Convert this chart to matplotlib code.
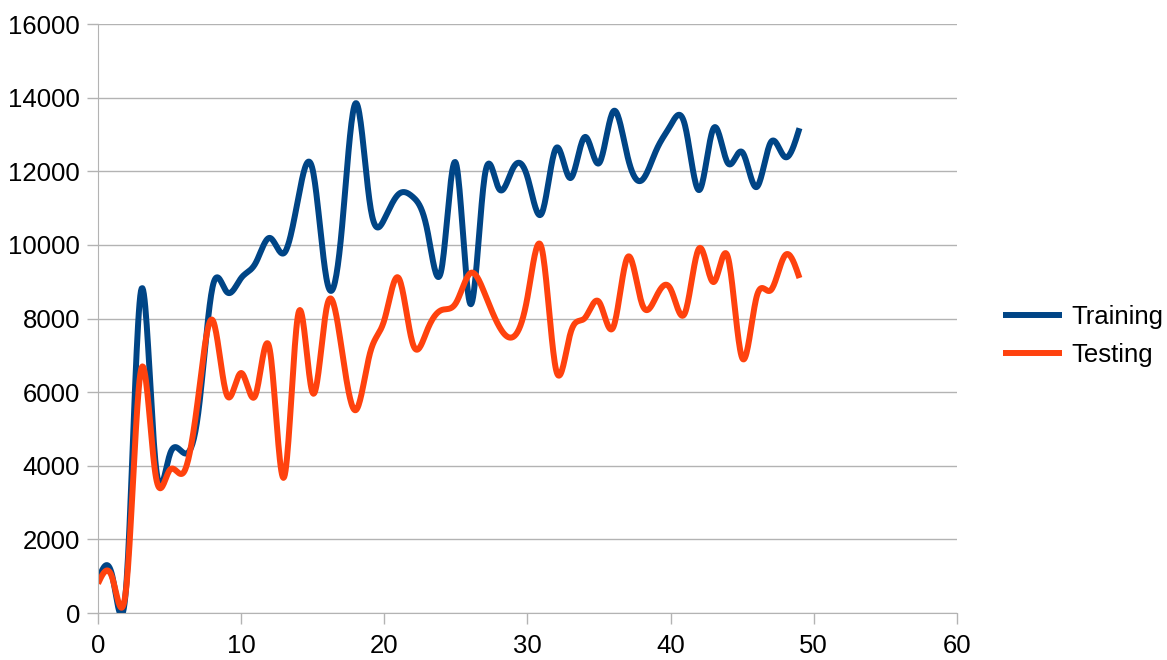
import numpy as np
import matplotlib.pyplot as plt

plt.rcParams["font.family"] = ["Liberation Sans", "DejaVu Sans"]

epochs = list(range(50))

training = [900, 1000, 900, 8750, 4150, 4290, 4345, 5430, 8855, 8720,
            9100, 9500, 10190, 9780, 11300, 12030, 9000, 10300, 13850, 11100,
            10700, 11380, 11300, 10400, 9350, 12220, 8400, 11840, 11530, 12090,
            11840, 10860, 12630, 11815, 12930, 12220, 13630, 12385, 11760, 12575,
            13250, 13250, 11490, 13170, 12220, 12520, 11570, 12790, 12385, 13170]

testing = [800, 950, 800, 6600, 3800, 3880, 3830, 5870, 7958, 5920,
           6520, 5920, 7150, 3690, 8150, 5975, 8350, 7225, 5510, 7060,
           7960, 9100, 7300, 7690, 8230, 8420, 9230, 8690, 7800, 7500,
           8580, 9900, 6600, 7600, 8010, 8450, 7770, 9670, 8400, 8600,
           8800, 8150, 9910, 8990, 9670, 6925, 8580, 8770, 9720, 9100]


def natural_spline(x, y, n=20):
    # natural cubic spline through the points, like the office chart smoothing
    x = np.asarray(x, float)
    y = np.asarray(y, float)
    k = len(x)
    h = np.diff(x)
    A = np.zeros((k, k))
    b = np.zeros(k)
    A[0, 0] = A[-1, -1] = 1
    for i in range(1, k - 1):
        A[i, i - 1] = h[i - 1]
        A[i, i] = 2 * (h[i - 1] + h[i])
        A[i, i + 1] = h[i]
        b[i] = 6 * ((y[i + 1] - y[i]) / h[i] - (y[i] - y[i - 1]) / h[i - 1])
    M = np.linalg.solve(A, b)
    xs, ys = [], []
    for i in range(k - 1):
        t = np.linspace(x[i], x[i + 1], n, endpoint=False)
        a = x[i + 1] - t
        c = t - x[i]
        s = (M[i] * a**3 + M[i + 1] * c**3) / (6 * h[i]) \
            + (y[i] / h[i] - M[i] * h[i] / 6) * a \
            + (y[i + 1] / h[i] - M[i + 1] * h[i] / 6) * c
        xs.append(t)
        ys.append(s)
    xs.append([x[-1]])
    ys.append([y[-1]])
    return np.concatenate(xs), np.concatenate(ys)


fig = plt.figure(figsize=(11.67, 6.6), dpi=100)
ax = fig.add_axes([0.084, 0.0712, 0.736, 0.8924])

xs, ys = natural_spline(epochs, training)
ax.plot(xs, ys, color="#004586", lw=4.3, label="Training", solid_capstyle="butt")
xs, ys = natural_spline(epochs, testing)
ax.plot(xs, ys, color="#ff420e", lw=4.3, label="Testing", solid_capstyle="butt")

ax.set_xlim(0, 60)
ax.set_ylim(0, 16000)
ax.set_xticks(range(0, 61, 10))
ax.set_yticks(range(0, 16001, 2000))
ax.grid(axis="y", color="#b3b3b3", lw=1)
ax.set_axisbelow(True)
for side in ["top", "right"]:
    ax.spines[side].set_visible(False)
for side in ["left", "bottom"]:
    ax.spines[side].set_color("#b3b3b3")
ax.tick_params(colors="#b3b3b3", labelcolor="black", labelsize=18.5, length=8, width=1)
ax.tick_params(axis="y", pad=5)
ax.tick_params(axis="x", pad=7)

ax.legend(loc="center left", bbox_to_anchor=(1.027, 0.47), frameon=False,
          fontsize=18.5, handlelength=2.3, handletextpad=0.35, labelspacing=0.56)

fig.savefig("out.png", dpi=100)
